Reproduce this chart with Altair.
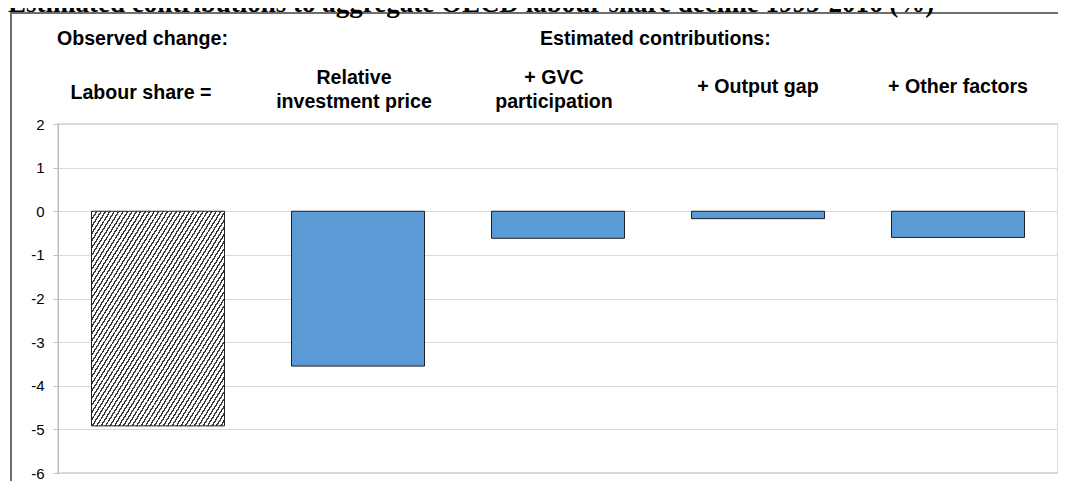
import altair as alt
import pandas as pd

# ---------------- data ----------------
categories = ["Labour share", "Relative investment price", "GVC participation",
              "Output gap", "Other factors"]
values = [-4.92, -3.55, -0.62, -0.17, -0.60]
groups = ["Observed", "Estimated", "Estimated", "Estimated", "Estimated"]
header_labels = ["Labour share =", "Relative\ninvestment price", "+ GVC\nparticipation",
                 "+ Output gap", "+ Other factors"]
section_labels = ["Observed change:", "Estimated contributions:"]
title_text = "Estimated contributions to aggregate OECD labour share decline 1995-2016 (%)"
y_ticks = [2, 1, 0, -1, -2, -3, -4, -5, -6]

df = pd.DataFrame({"category": categories, "value": values,
                   "group": groups, "header": header_labels})

W, H = 1000, 349
TOP = 116
FONT = "Liberation Sans"

x_enc = alt.X("category:N", sort=categories,
              scale=alt.Scale(paddingInner=0.335, paddingOuter=0.1675), axis=None)
y_scale = alt.Scale(domain=[-6, 2], nice=False, zero=False)

# hatch pattern approximated with a striped linear gradient
stops = []
n = 60
for i in range(n):
    a, b, c = i / n, (i + 0.36) / n, (i + 1) / n
    stops += [alt.GradientStop(offset=a, color="#3a3a3a"),
              alt.GradientStop(offset=b, color="#3a3a3a"),
              alt.GradientStop(offset=b, color="#ffffff"),
              alt.GradientStop(offset=c, color="#ffffff")]
hatch = alt.LinearGradient(gradient="linear", x1=0, y1=0, x2=1, y2=1, stops=stops)

base = alt.Chart(df)

observed = base.transform_filter(alt.datum.group == "Observed").mark_bar(
    fill=hatch, stroke="#222222", strokeWidth=1
).encode(
    x=x_enc,
    y=alt.Y("value:Q", scale=y_scale,
            axis=alt.Axis(values=y_ticks, grid=True, gridColor="#d9d9d9",
                          domainColor="#bfbfbf", tickColor="#bfbfbf", tickSize=5,
                          labelFontSize=15, labelFont=FONT, labelColor="#000000",
                          labelPadding=9, labelExpr="toString(datum.value)",
                          title=None)),
    y2=alt.datum(0),
)

estimated = base.transform_filter(alt.datum.group == "Estimated").mark_bar(
    fill="#5b9bd5", stroke="#1f1f1f", strokeWidth=1
).encode(x=x_enc, y=alt.Y("value:Q", scale=y_scale), y2=alt.datum(0))

hdr_style = dict(baseline="middle", align="center", lineBreak="\n", fontSize=19.6,
                 fontWeight="bold", font=FONT, lineHeight=24, color="#000000")

hdr_first = base.transform_filter(alt.datum.group == "Observed").mark_text(
    dx=-17, **hdr_style
).encode(x=x_enc, y=alt.value(93 - 8 - TOP), text="header:N")

hdr_two = base.transform_filter(
    (alt.datum.group == "Estimated") & (alt.expr.indexof(alt.datum.header, "\n") >= 0)
).mark_text(dx=-4, **hdr_style).encode(
    x=x_enc, y=alt.value(78 - 8 - TOP), text="header:N")

hdr_one = base.transform_filter(
    (alt.datum.group == "Estimated") & (alt.expr.indexof(alt.datum.header, "\n") < 0)
).mark_text(dx=0, **hdr_style).encode(
    x=x_enc, y=alt.value(87 - 8 - TOP), text="header:N")

sec_df = pd.DataFrame({"label": section_labels})
sec_style = dict(align="left", baseline="middle", fontSize=19.6, fontWeight="bold",
                 font=FONT, color="#000000")
sec_obs = alt.Chart(sec_df).transform_filter(
    alt.datum.label == section_labels[0]
).mark_text(**sec_style).encode(
    x=alt.value(57 - 58), y=alt.value(39 - 8 - TOP), text="label:N")
sec_est = alt.Chart(sec_df).transform_filter(
    alt.datum.label == section_labels[1]
).mark_text(**sec_style).encode(
    x=alt.value(540 - 58), y=alt.value(39 - 8 - TOP), text="label:N")

title = alt.Chart(pd.DataFrame({"t": [title_text]})).mark_text(
    align="left", baseline="alphabetic", fontSize=27, fontWeight="bold",
    font="Liberation Serif", color="#000000"
).encode(x=alt.value(8 - 58), y=alt.value(12 - 8 - TOP), text="t:N")

frame = alt.Chart(pd.DataFrame({"f": [0]})).mark_rect(
    fill="transparent", stroke="#6e6e6e", strokeWidth=2
).encode(x=alt.value(11 - 58), x2=alt.value(W + 30),
         y=alt.value(13 - 8 - TOP), y2=alt.value(H + 40))

chart = alt.layer(
    frame, observed, estimated, hdr_first, hdr_two, hdr_one, sec_obs, sec_est, title
).properties(
    width=W, height=H,
    autosize=alt.AutoSizeParams(type="none"),
    padding={"left": 50, "top": TOP, "right": 0, "bottom": 8},
).configure_view(stroke="#cfcfcf", strokeWidth=1.5)

chart.save("out.html", embed_options={"renderer": "svg", "actions": False})
